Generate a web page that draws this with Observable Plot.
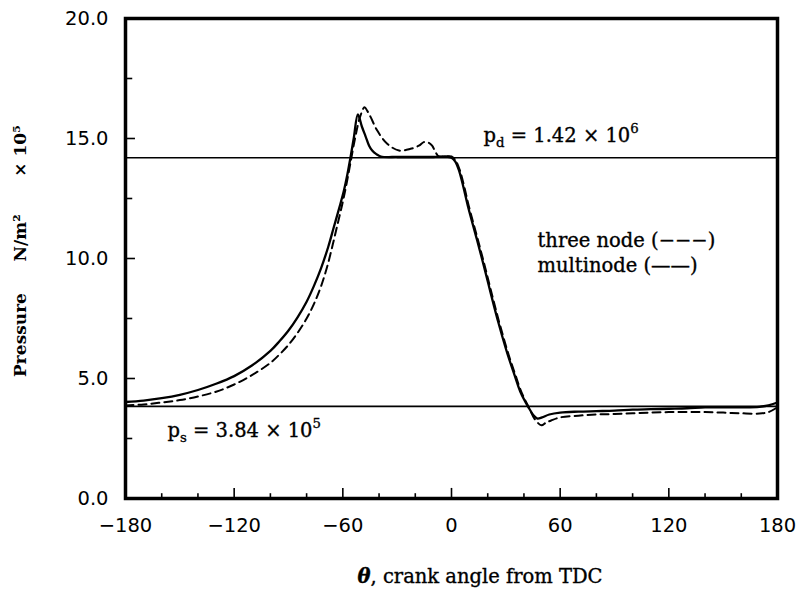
<!DOCTYPE html>
<html><head><meta charset="utf-8">
<script src="https://cdn.jsdelivr.net/npm/d3@7"></script>
<script src="https://cdn.jsdelivr.net/npm/@observablehq/plot@0.6"></script>
<style>body{margin:0;background:#fff;} svg{display:block}</style>
</head><body><div id="chart"></div>
<script>
// crank angle (deg) and pressure (x 10^5 N/m^2)
const thetaMulti = [-180,-170,-160,-150,-140,-130,-120,-110,-100,-95,-90,-85,-80,-76,-72,-68,-65,-62,-59.5,-57.5,-55.8,-54,-51.7,-49.5,-47.5,-45.5,-43.8,-41.5,-39,-30,-20,-10,-3,0,2,4,6.5,9,14,18,22,26,31,35,38,42.5,45.5,47.5,50,54,60,70,80,90,100,110,120,130,140,150,160,170,175,180];
const pMulti = [4.02,4.08,4.18,4.32,4.52,4.78,5.1,5.55,6.15,6.55,7.0,7.55,8.2,8.85,9.6,10.5,11.3,12.1,12.8,13.5,14.2,15.0,16.0,15.5,15.1,14.7,14.5,14.35,14.25,14.23,14.23,14.23,14.25,14.2,14.05,13.7,13.0,12.2,10.8,9.65,8.45,7.3,6.0,5.1,4.45,3.8,3.45,3.33,3.38,3.5,3.58,3.62,3.64,3.66,3.7,3.72,3.74,3.76,3.8,3.8,3.8,3.82,3.88,4.0];
const thetaThree = [-180,-170,-160,-150,-140,-130,-120,-110,-100,-95,-90,-85,-80,-76,-72,-68.5,-65.5,-63,-60.5,-58.5,-56,-53,-50.5,-48,-46.5,-44.7,-41,-35.5,-29,-22.6,-18,-15.3,-12.5,-10.7,-8.8,-7,0,2.5,4.5,7,9.5,14.5,18.5,22.5,26.5,31.5,35.5,38.5,43,46,49.7,52,55,60,70,80,90,100,110,120,130,140,150,160,170,175,180];
const pThree = [3.88,3.92,4.0,4.1,4.25,4.45,4.75,5.15,5.65,6.0,6.4,6.9,7.5,8.1,8.85,9.7,10.6,11.4,12.2,12.9,13.9,15.1,15.9,16.3,16.15,15.9,15.33,14.78,14.5,14.57,14.7,14.85,14.82,14.7,14.43,14.25,14.25,14.05,13.7,13.0,12.2,10.8,9.65,8.45,7.3,6.0,5.1,4.45,3.75,3.3,3.05,3.15,3.25,3.38,3.45,3.5,3.52,3.55,3.58,3.6,3.6,3.6,3.58,3.55,3.54,3.6,3.8];
const xTicksMajor = [-180,-120,-60,0,60,120,180];
const xTicksMinor = [-160,-140,-100,-80,-40,-20,20,40,80,100,140,160];
const yTicksMajor = [0,5,10,15,20];
const yTicksMinor = [2.5,7.5,12.5,17.5];
const refLevels = [14.2, 3.84]; // p_d = 1.42e6, p_s = 3.84e5
const annText = ["p_d = 1.42 × 10^6", "p_s = 3.84 × 10^5", "three node (−−−)", "multinode (——)"];
const annTheta = [17.7, -156.8, 47.5, 47.5];
const annP = [15.13, 2.84, 10.76, 9.68];
const xTitle = "crank angle from TDC";
const yTitleParts = ["Pressure", "N/m²", "× 10⁵"];

const multi = thetaMulti.map((t, i) => ({theta: t, p: pMulti[i]}));
const three = thetaThree.map((t, i) => ({theta: t, p: pThree[i]}));
const annotations = annText.map((t, i) => ({text: t, x: annTheta[i], y: annP[i]}));

const serif = "DejaVu Serif";
const plot = Plot.plot({
  width: 796, height: 596,
  marginLeft: 125, marginRight: 19, marginTop: 18, marginBottom: 98,
  x: {domain: [-180, 180]},
  y: {domain: [0, 20]},
  style: {fontFamily: "DejaVu Sans", fontSize: "19.5px", color: "#000", background: "#fff"},
  marks: [
    Plot.ruleY(refLevels, {stroke: "#000", strokeWidth: 1.6}),
    Plot.line(three, {x: "theta", y: "p", stroke: "#000", strokeWidth: 2, strokeDasharray: "8,5", curve: "catmull-rom"}),
    Plot.line(multi, {x: "theta", y: "p", stroke: "#000", strokeWidth: 2.3, curve: "catmull-rom"}),
    Plot.ruleX(xTicksMajor, {y1: 0, y2: 0.42, stroke: "#000", strokeWidth: 1.6}),
    Plot.ruleX(xTicksMinor, {y1: 0, y2: 0.2, stroke: "#000", strokeWidth: 1.6}),
    Plot.ruleY(yTicksMajor, {x1: -180, x2: -174.5, stroke: "#000", strokeWidth: 1.6}),
    Plot.ruleY(yTicksMinor, {x1: -180, x2: -176, stroke: "#000", strokeWidth: 1.6}),
    Plot.axisX(xTicksMajor, {tickSize: 0, tickPadding: 20, label: null}),
    Plot.axisY(yTicksMajor, {tickSize: 0, tickPadding: 17, label: null, tickFormat: d3.format(".1f")}),
    Plot.text(annotations, {x: "x", y: "y", text: "text", textAnchor: "start", fontFamily: serif, fontSize: 19.5, fill: "#000", stroke: "#000", strokeWidth: 0.35}),
    Plot.frame({stroke: "#000", strokeWidth: 3.5})
  ]
});

// rich text for sub/superscripts
function richText(el, size) {
  const s = el.textContent;
  if (!/[_^]/.test(s)) return;
  const parts = s.split(/([_^])(\w)/);
  el.textContent = "";
  let shift = 0;
  for (let i = 0; i < parts.length; i += 3) {
    const normal = parts[i];
    if (normal) {
      const t = document.createElementNS("http://www.w3.org/2000/svg", "tspan");
      t.setAttribute("dy", (-shift) + "px");
      t.textContent = normal;
      el.appendChild(t);
      shift = 0;
    }
    if (i + 2 < parts.length) {
      const target = parts[i + 1] === "_" ? 0.3 * size : -0.45 * size;
      const t = document.createElementNS("http://www.w3.org/2000/svg", "tspan");
      t.setAttribute("dy", (target - shift) + "px");
      t.setAttribute("font-size", (0.68 * size) + "px");
      t.textContent = parts[i + 2];
      el.appendChild(t);
      shift = target;
    }
  }
}
const svg = d3.select(plot);
svg.selectAll("text").each(function() { richText(this, 19.5); });

// x title
const xt = svg.append("text").attr("x", 480).attr("y", 583).attr("text-anchor", "middle")
  .attr("font-family", serif).attr("font-size", 19.5).attr("fill", "#000")
  .attr("stroke", "#000").attr("stroke-width", 0.35);
xt.append("tspan").attr("font-style", "italic").attr("font-weight", "bold").text("θ");
xt.append("tspan").text(", " + xTitle);

// y title (rotated, three pieces)
const yCenters = [335, 238, 151];
yTitleParts.forEach((t, i) => {
  svg.append("text").attr("transform", `translate(26,${yCenters[i]}) rotate(-90)`)
    .attr("text-anchor", "middle").attr("font-family", serif).attr("font-size", 17)
    .attr("font-weight", "bold").attr("fill", "#000").text(t);
});

document.getElementById("chart").appendChild(plot);
</script>
</body></html>
